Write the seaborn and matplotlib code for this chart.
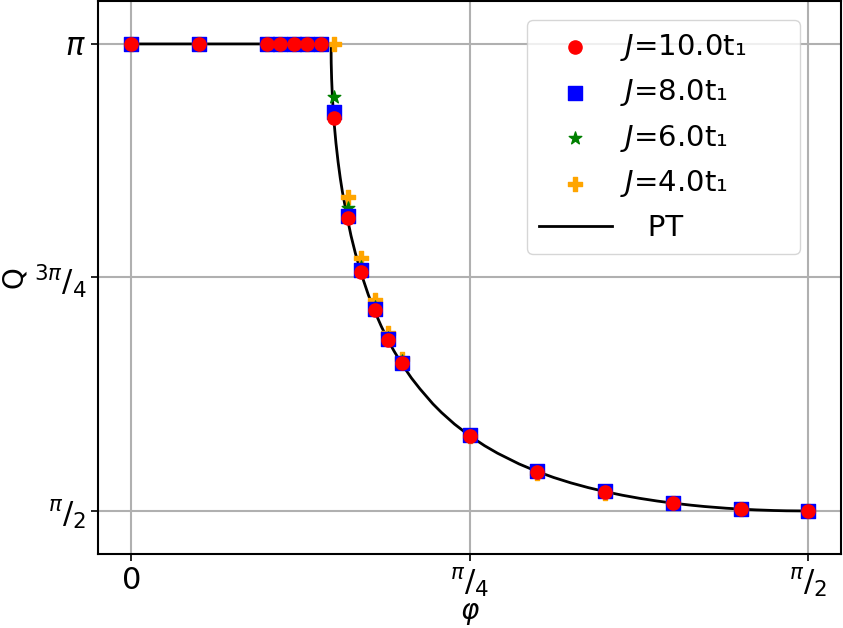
import numpy as np
import pandas as pd
import matplotlib.pyplot as plt
import seaborn as sns

pi = np.pi

# phi in units of pi
phi_frac = [0.00, 0.05, 0.10, 0.11, 0.12, 0.13, 0.14, 0.15, 0.16, 0.17,
            0.18, 0.19, 0.20, 0.25, 0.30, 0.35, 0.40, 0.45, 0.50]

# Q values (rad)
q_j10 = [3.1416, 3.1416, 3.1416, 3.1416, 3.1416, 3.1416, 3.1416, 2.894, 2.556, 2.375,
         2.247, 2.146, 2.068, 1.824, 1.703, 1.636, 1.597, 1.578, 1.572]
q_j8 = [3.1416, 3.1416, 3.1416, 3.1416, 3.1416, 3.1416, 3.1416, 2.913, 2.562, 2.380,
        2.250, 2.148, 2.070, 1.825, 1.704, 1.637, 1.598, 1.578, 1.572]
q_j6 = [3.1416, 3.1416, 3.1416, 3.1416, 3.1416, 3.1416, 3.1416, 2.962, 2.590, 2.390,
        2.256, 2.152, 2.074, 1.826, 1.705, 1.637, 1.598, 1.578, 1.572]
q_j4 = [3.1416, 3.1416, 3.1416, 3.1416, 3.1416, 3.1416, 3.1416, 3.1416, 2.626, 2.421,
        2.281, 2.168, 2.081, 1.822, 1.700, 1.632, 1.596, 1.577, 1.571]

# PT curve
phi_pt = [0.0, 0.4636, 0.4640, 0.465, 0.4665, 0.468, 0.4712, 0.475, 0.48, 0.485,
          0.49, 0.5027, 0.51, 0.52, 0.5341, 0.55, 0.5655, 0.58, 0.5969, 0.61,
          0.6283, 0.65, 0.67, 0.70, 0.72, 0.75, 0.7854, 0.82, 0.85, 0.90,
          0.9425, 0.98, 1.02, 1.06, 1.0996, 1.14, 1.18, 1.22, 1.2566, 1.30,
          1.33, 1.38, 1.4137, 1.45, 1.49, 1.52, 1.5708]
q_pt = [3.1416, 3.1416, 3.078, 3.0235, 2.9719, 2.9330, 2.869, 2.8085, 2.7444, 2.6906,
        2.6440, 2.547, 2.4964, 2.4381, 2.367, 2.2984, 2.2406, 2.1925, 2.1423, 2.1081,
        2.0644, 2.0182, 1.9813, 1.9309, 1.9018, 1.8630, 1.8235, 1.7902, 1.7650, 1.7289,
        1.7032, 1.6835, 1.6653, 1.6495, 1.6358, 1.6236, 1.6132, 1.6043, 1.5972, 1.5901,
        1.5858, 1.5801, 1.5771, 1.5745, 1.5724, 1.5714, 1.5708]

labels = ['$J$=10.0t\u2081', '$J$=8.0t\u2081', '$J$=6.0t\u2081', '$J$=4.0t\u2081']
colors = ['red', 'blue', 'green', 'orange']
markers = ['o', 's', '*', 'P']

phi = np.array(phi_frac) * pi
series = [q_j10, q_j8, q_j6, q_j4]

fig = plt.figure(figsize=(8.43, 6.28), dpi=100)
ax = fig.add_axes([0.1163, 0.1178, 0.8814, 0.8806])

#PT line
sns.lineplot(x=phi_pt, y=q_pt, color='black', linewidth=2, label='   PT', ax=ax, zorder=2)

#points, J=4 first so red ends on top
for q, lab, c, m in reversed(list(zip(series, labels, colors, markers))):
    sns.scatterplot(x=phi, y=q, marker=m, color=c, edgecolor=c, s=90, linewidth=1,
                    label=lab, ax=ax, zorder=3)

ax.set_xlim(-0.077, 1.647)
ax.set_ylim(1.426, 3.286)
ax.set_xticks([0, pi / 4, pi / 2])
ax.set_xticklabels(['0', r'$^{\pi}/_{4}$', r'$^{\pi}/_{2}$'])
ax.set_yticks([pi / 2, 3 * pi / 4, pi])
ax.set_yticklabels([r'$^{\pi}/_{2}$', r'$^{3\pi}/_{4}$', r'$\pi$'])
ax.tick_params(labelsize=22, width=1.2, length=5)
for sp in ax.spines.values():
    sp.set_linewidth(1.5)
ax.grid(True, color='#b0b0b0', linewidth=1.5)
ax.set_axisbelow(True)

ax.set_xlabel(r'$\varphi$', fontsize=20, labelpad=0)
ax.set_ylabel('Q', fontsize=20, labelpad=4)

handles, labs = ax.get_legend_handles_labels()
order = [labs.index(l) for l in labels] + [labs.index('   PT')]
ax.legend([handles[i] for i in order], [labs[i] for i in order],
          loc='upper left', bbox_to_anchor=(0.5774, 0.0, 0.3674, 0.9656),
          mode='expand', borderaxespad=0, fontsize=21,
          handlelength=2.5, handletextpad=0.27)

plt.savefig('out.png', dpi=100)
